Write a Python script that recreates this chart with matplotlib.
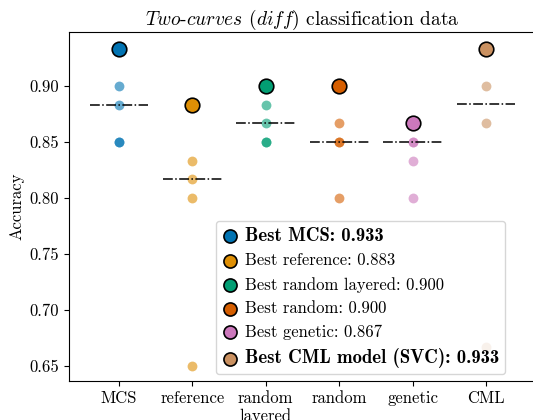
import matplotlib
matplotlib.use("Agg")
import matplotlib.pyplot as plt
import numpy as np

plt.rcParams['font.family'] = 'serif'
plt.rcParams['font.serif'] = ['cmr10']
plt.rcParams['mathtext.fontset'] = 'cm'
plt.rcParams['axes.formatter.use_mathtext'] = True
plt.rcParams['axes.unicode_minus'] = False

# accuracy of the runs for each method
methods = ["MCS", "reference", "random\nlayered", "random", "genetic", "CML"]
runs = [
    [0.933, 0.900, 0.883, 0.850, 0.850],
    [0.883, 0.833, 0.817, 0.800, 0.650],
    [0.900, 0.883, 0.867, 0.850, 0.850],
    [0.900, 0.867, 0.850, 0.850, 0.800],
    [0.867, 0.850, 0.850, 0.833, 0.800],
    [0.933, 0.900, 0.867, 0.667],
]
legend_names = ["MCS", "reference", "random layered", "random", "genetic", "CML model (SVC)"]
colors = ["#0173b2", "#de8f05", "#029e73", "#d55e00", "#cc78bc", "#ca9161"]
bold = [True, False, False, False, False, True]

fig = plt.figure(figsize=(5.33, 4.2), dpi=100)
ax = fig.add_axes([0.1295, 0.093, 0.876, 0.831])

for i, vals in enumerate(runs):
    vals = np.array(vals)
    best = vals.max()
    # all runs, light
    ax.scatter(np.full(len(vals), i), vals, s=50, color=colors[i], alpha=0.6,
               linewidths=0, zorder=2)
    # median
    ax.hlines(np.median(vals), i - 0.4, i + 0.4, colors="black", linestyles="-.",
              linewidth=1.1, zorder=4)
    # best run
    ax.scatter([i], [best], s=110, color=colors[i], edgecolors="black",
               linewidths=1.2, zorder=5,
               label="Best %s: %.3f" % (legend_names[i], best))

ax.set_xticks(range(len(methods)))
ax.set_xticklabels(methods, fontsize=12)
ax.set_xlim(-0.68, 5.68)
ax.set_ylim(0.6366, 0.948)
ax.set_yticks([0.65, 0.70, 0.75, 0.80, 0.85, 0.90])
ax.set_yticklabels(["%.2f" % t for t in [0.65, 0.70, 0.75, 0.80, 0.85, 0.90]], fontsize=12)
ax.set_ylabel("Accuracy", fontsize=12)
ax.set_title(r"$\mathit{Two}$-$\mathit{curves}$ $\mathit{(diff)}$ classification data",
             fontsize=14, pad=5)

leg = ax.legend(loc="lower right", bbox_to_anchor=(0.934, 0.02), borderaxespad=0,
                fontsize=12, handletextpad=0.4, handlelength=1.0, borderpad=0.35,
                markerscale=0.9)
for t, b in zip(leg.get_texts(), bold):
    if b:
        t.set_fontfamily("cmb10")
        t.set_fontsize(13.5)

fig.savefig("out.png", dpi=100)
